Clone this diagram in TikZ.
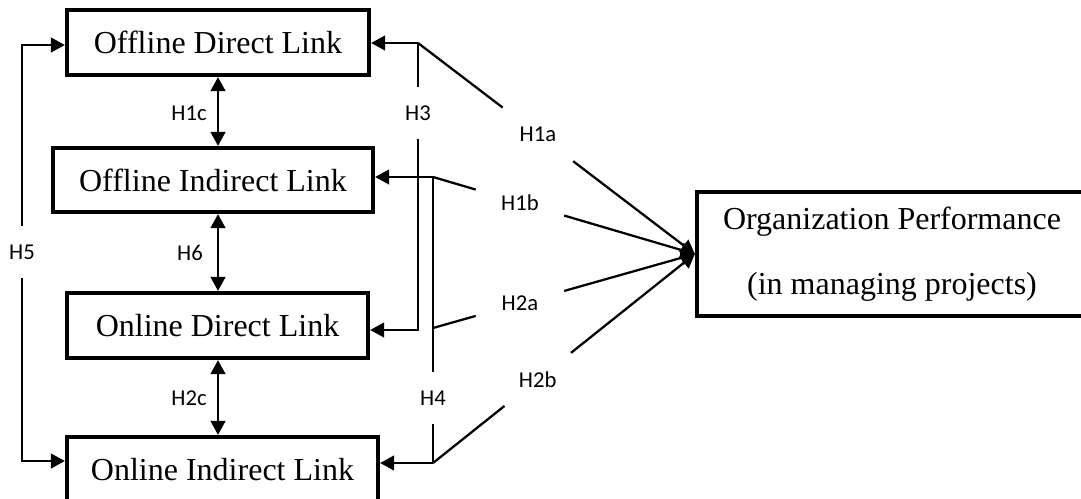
\documentclass[tikz,border=0pt]{standalone}
\usepackage{fontspec}
\setmainfont{Liberation Serif}
\newfontfamily\labfont{Carlito}
\usetikzlibrary{arrows.meta,calc}
\begin{document}
\begin{tikzpicture}[x=0.75pt,y=-0.75pt,
  box/.style={draw, line width=3.2pt, inner sep=0pt, align=center, font=\fontsize{24}{29}\selectfont},
  conn/.style={line width=1.7pt},
  tip/.style={-{Triangle[length=10.5pt,width=11pt]}},
  dtip/.style={{Triangle[length=10.5pt,width=11pt]}-{Triangle[length=10.5pt,width=11pt]}},
  lab/.style={font=\labfont\fontsize{17}{20}\selectfont, inner sep=0pt},
  gap/.style={lab, minimum height=52*0.75pt},
  diag/.style={lab, minimum height=56*0.75pt, minimum width=#1*0.75pt},
]
\useasboundingbox (0,0) rectangle (1081,499);
\clip (0,0) rectangle (1081,499);

% boxes
\node[box, minimum width=302*0.75pt, minimum height=65*0.75pt] (odl) at (218,42.5) {Offline Direct Link};
\node[box, minimum width=320*0.75pt, minimum height=64*0.75pt] (oil) at (213,180) {Offline Indirect Link};
\node[box, minimum width=301*0.75pt, minimum height=65*0.75pt] (ondl) at (217.5,325.5) {Online Direct Link};
\node[box, minimum width=311*0.75pt, minimum height=66*0.75pt] (onil) at (222.5,470) {Online Indirect Link};
\node[box, minimum width=390*0.75pt, minimum height=124*0.75pt, font=\fontsize{24}{48.75}\selectfont] (org) at (892,254) {Organization Performance\\(in managing projects)};

% junctions
\coordinate (j3) at (418,43);
\coordinate (j1b) at (433,177);
\coordinate (j2a) at (433,328);
\coordinate (j4) at (433,463);

% labels
\node[gap] (h3) at (418,113) {H3};
\node[gap] (h4) at (433,398) {H4};
\node[gap] (h5) at (22,252) {H5};
\node[lab] (h1c) at (189,113) {H1c};
\node[lab] (h6) at (190,253) {H6};
\node[lab] (h2c) at (189,398) {H2c};
\node[diag=70] (h1a) at ($(j3)!0.433!(org.west)$) {H1a};
\node[diag=88] (h1b) at ($(j1b)!0.332!(org.west)$) {H1b};
\node[diag=88] (h2a) at ($(j2a)!0.332!(org.west)$) {H2a};
\node[diag=66] (h2b) at ($(j4)!0.40!(org.west)$) {H2b};

% H3
\draw[conn,tip] (j3) -- (j3 -| odl.east);
\draw[conn] (j3) -- (h3);
\draw[conn,tip] (h3) |- (ondl.east |- 0,330);
% H1a
\draw[conn] (j3) -- (h1a);
\draw[conn,tip] (h1a) -- (org.west);
% H1b
\draw[conn,tip] (j1b) -- (j1b -| oil.east);
\draw[conn] (j1b) -- (h1b);
\draw[conn,tip] (h1b) -- (org.west);
% H2a
\draw[conn] (j2a) -- (h2a);
\draw[conn,tip] (h2a) -- (org.west);
% H2b
\draw[conn,tip] (j4) -- (j4 -| onil.east);
\draw[conn] (j4) -- (h2b);
\draw[conn,tip] (h2b) -- (org.west);
% H4
\draw[conn] (j1b) -- (h4);
\draw[conn] (h4) -- (j4);
% H5
\draw[conn,tip] (h5) |- (odl.west |- 0,45);
\draw[conn,tip] (h5) |- (onil.west |- 0,461);
% vertical double arrows
\draw[conn,dtip] (odl.south -| 218,0) -- (oil.north -| 218,0);
\draw[conn,dtip] (oil.south -| 218,0) -- (ondl.north -| 218,0);
\draw[conn,dtip] (ondl.south -| 218,0) -- (onil.north -| 218,0);
\end{tikzpicture}
\end{document}
